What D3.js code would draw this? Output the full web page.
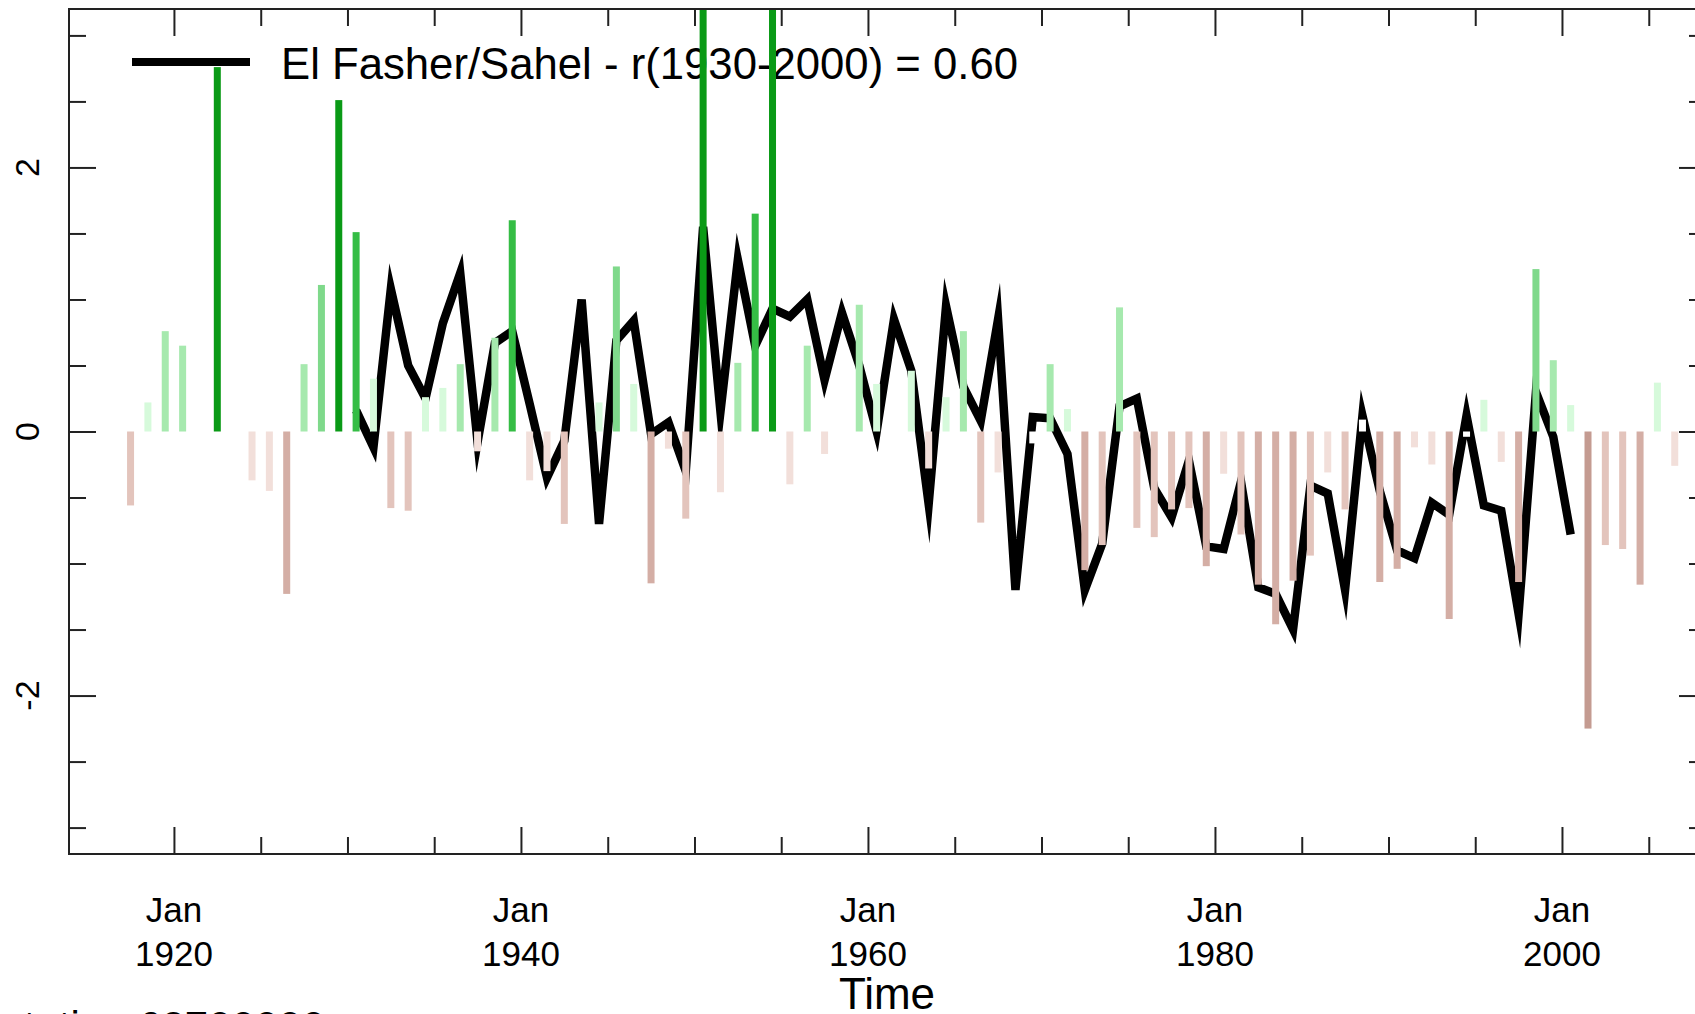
<!DOCTYPE html>
<html>
<head>
<meta charset="utf-8">
<script src="https://cdn.jsdelivr.net/npm/d3@7"></script>
<style>
  html, body { margin: 0; padding: 0; background: #fff; }
  svg { display: block; font-family: "Liberation Sans", Arial, sans-serif; }
</style>
</head>
<body>
<div id="chart"></div>
<script>
// station series (bars), one value per year; null = no bar drawn
const barYears = d3.range(1917, 2007);
const barValues = [
  -0.56, 0.22, 0.76, 0.65, null, 2.76, null, -0.37, -0.45, -1.23,   // 1917-1926
  0.51, 1.11, 2.51, 1.51, 0.40, -0.58, -0.60, 0.26, 0.33, 0.51,     // 1927-1936
  -0.15, 0.71, 1.60, -0.37, -0.30, -0.70, null, 0.22, 1.25, 0.36,   // 1937-1946
  -1.15, -0.13, -0.66, 3.60, -0.46, 0.52, 1.65, 3.60, -0.40, 0.65,  // 1947-1956
  -0.17, null, 0.96, 0.36, null, 0.46, -0.28, 0.26, 0.76, -0.69,    // 1957-1966
  -0.31, null, -0.09, 0.51, 0.17, -1.05, -0.86, 0.94, -0.73, -0.80, // 1967-1976
  -0.59, -0.58, -1.02, -0.32, -0.78, -1.16, -1.46, -1.13, -0.94, -0.31, // 1977-1986
  -0.59, 0.09, -1.14, -1.04, -0.12, -0.25, -1.42, -0.04, 0.24, -0.23,   // 1987-1996
  -1.14, 1.23, 0.54, 0.20, -2.25, -0.86, -0.89, -1.16, 0.37, -0.26      // 1997-2006
];

// Sahel index (black line)
const lineYears = d3.range(1930, 2001);
const lineValues = [
  0.16, -0.12, 1.08, 0.50, 0.25, 0.82, 1.20, -0.08, 0.67, 0.76,   // 1930-1939
  0.21, -0.35, -0.07, 1.00, -0.70, 0.69, 0.84, -0.02, 0.07, -0.30, // 1940-1949
  1.55, 0.15, 1.30, 0.65, 0.93, 0.87, 1.00, 0.39, 0.90, 0.50,     // 1950-1959
  0.00, 0.85, 0.46, -0.55, 0.95, 0.34, 0.08, 0.85, -1.20, 0.11,   // 1960-1969
  0.10, -0.17, -1.20, -0.85, 0.19, 0.25, -0.43, -0.65, -0.22, -0.87, // 1970-1979
  -0.89, -0.38, -1.18, -1.23, -1.50, -0.41, -0.47, -1.20, 0.12, -0.45, // 1980-1989
  -0.90, -0.96, -0.54, -0.63, 0.12, -0.56, -0.60, -1.38, 0.30, -0.04,  // 1990-1999
  -0.78                                                                // 2000
];

const labelYears = [1920, 1940, 1960, 1980, 2000];
const yLabels = [-2, 0, 2];
const legendText = "El Fasher/Sahel - r(1930-2000) = 0.60";

const width = 1695;
const height = 1014;
const m = { left: 69, right: 1706, top: 9, bottom: 854 };

const svg = d3.select("#chart")
    .append("svg")
    .attr("width", width)
    .attr("height", height);

svg.append("rect").attr("width", width).attr("height", height).attr("fill", "#fff");

const x = d3.scaleTime()
    .domain([new Date(1913, 11, 14), new Date(2008, 3, 20)])
    .range([m.left, m.right]);

const y = d3.scaleLinear()
    .domain([-3.2, 3.2])
    .range([m.bottom, m.top]);

const midYear = yr => new Date(yr, 6, 2);

// bar colour by value
const barColor = d3.scaleThreshold()
    .domain([-2, -1, -0.5, -0.1, 0.1, 0.5, 1, 1.5, 2])
    .range(["#c49b91", "#d4aea5", "#e3c4bc", "#f2dfda", "#ffffff",
            "#d6fadb", "#a6e9ae", "#7fd98b", "#35bd45", "#0a9a16"]);

svg.append("clipPath").attr("id", "plot-clip")
    .append("rect")
    .attr("x", m.left).attr("y", m.top)
    .attr("width", m.right - m.left).attr("height", m.bottom - m.top);

// legend text (drawn first, bars overlap it)
svg.append("text")
    .attr("x", 281)
    .attr("y", 79)
    .attr("font-size", "43.7px")
    .attr("fill", "#000")
    .text(legendText);

const plot = svg.append("g").attr("clip-path", "url(#plot-clip)");

// black index line
const lineData = lineYears.map((yr, i) => ({ date: midYear(yr), v: lineValues[i] }));
plot.append("path")
    .datum(lineData)
    .attr("fill", "none")
    .attr("stroke", "#000")
    .attr("stroke-width", 8.5)
    .attr("stroke-linejoin", "miter")
    .attr("stroke-miterlimit", 10)
    .attr("d", d3.line().x(d => x(d.date)).y(d => y(d.v)));

// bars on top of the line
const barData = barYears.map((yr, i) => ({ date: midYear(yr), v: barValues[i] }))
    .filter(d => d.v !== null);
const barW = 7;
plot.selectAll(".bar")
    .data(barData)
    .join("rect")
    .attr("class", "bar")
    .attr("x", d => x(d.date) - barW / 2)
    .attr("width", barW)
    .attr("y", d => y(Math.max(0, d.v)))
    .attr("height", d => Math.abs(y(d.v) - y(0)))
    .attr("fill", d => barColor(d.v));

// legend line
svg.append("line")
    .attr("x1", 132).attr("x2", 250)
    .attr("y1", 62).attr("y2", 62)
    .attr("stroke", "#000")
    .attr("stroke-width", 8);

// ticks, pointing inward on all four sides
const majorX = d3.range(1920, 2001, 20).map(yr => new Date(yr, 0, 1));
const minorX = d3.range(1925, 2010, 5).filter(yr => yr % 20 !== 0).map(yr => new Date(yr, 0, 1));
const majorY = [-2, 0, 2];
const minorY = d3.range(-3, 3.01, 0.5).filter(v => v % 2 !== 0);

function addAxis(axis, tx, ty) {
    const g = svg.append("g")
        .attr("transform", `translate(${tx},${ty})`)
        .call(axis);
    g.select(".domain").remove();
    g.selectAll(".tick line").attr("stroke", "#222").attr("stroke-width", 2);
    g.selectAll(".tick text").remove();
}

addAxis(d3.axisBottom(x).tickValues(majorX).tickSize(-27), 0, m.bottom);
addAxis(d3.axisBottom(x).tickValues(minorX).tickSize(-17), 0, m.bottom);
addAxis(d3.axisTop(x).tickValues(majorX).tickSize(-27), 0, m.top);
addAxis(d3.axisTop(x).tickValues(minorX).tickSize(-17), 0, m.top);
addAxis(d3.axisLeft(y).tickValues(majorY).tickSize(-27), m.left, 0);
addAxis(d3.axisLeft(y).tickValues(minorY).tickSize(-17), m.left, 0);
addAxis(d3.axisRight(y).tickValues(majorY).tickSize(-27), m.right, 0);
addAxis(d3.axisRight(y).tickValues(minorY).tickSize(-17), m.right, 0);

// frame
svg.append("rect")
    .attr("x", m.left).attr("y", m.top)
    .attr("width", m.right - m.left).attr("height", m.bottom - m.top)
    .attr("fill", "none")
    .attr("stroke", "#222")
    .attr("stroke-width", 2);

// x tick labels: "Jan" over the year
const xl = svg.selectAll(".xlab")
    .data(labelYears)
    .join("g")
    .attr("class", "xlab")
    .attr("transform", d => `translate(${x(new Date(d, 0, 1))},0)`);
xl.append("text")
    .attr("y", 922)
    .attr("text-anchor", "middle")
    .attr("font-size", "35px")
    .text("Jan");
xl.append("text")
    .attr("y", 966)
    .attr("text-anchor", "middle")
    .attr("font-size", "35px")
    .text(d => d);

// y tick labels, rotated
svg.selectAll(".ylab")
    .data(yLabels)
    .join("text")
    .attr("class", "ylab")
    .attr("transform", d => `translate(39,${y(d)}) rotate(-90)`)
    .attr("text-anchor", "middle")
    .attr("font-size", "34px")
    .text(d => d);

// axis title
svg.append("text")
    .attr("x", 887)
    .attr("y", 1009)
    .attr("text-anchor", "middle")
    .attr("font-size", "44px")
    .text("Time");

// station line, cut off at the bottom edge
svg.append("text")
    .attr("x", 325)
    .attr("y", 1041)
    .attr("text-anchor", "end")
    .attr("font-size", "42px")
    .text("station 62700000");
</script>
</body>
</html>
